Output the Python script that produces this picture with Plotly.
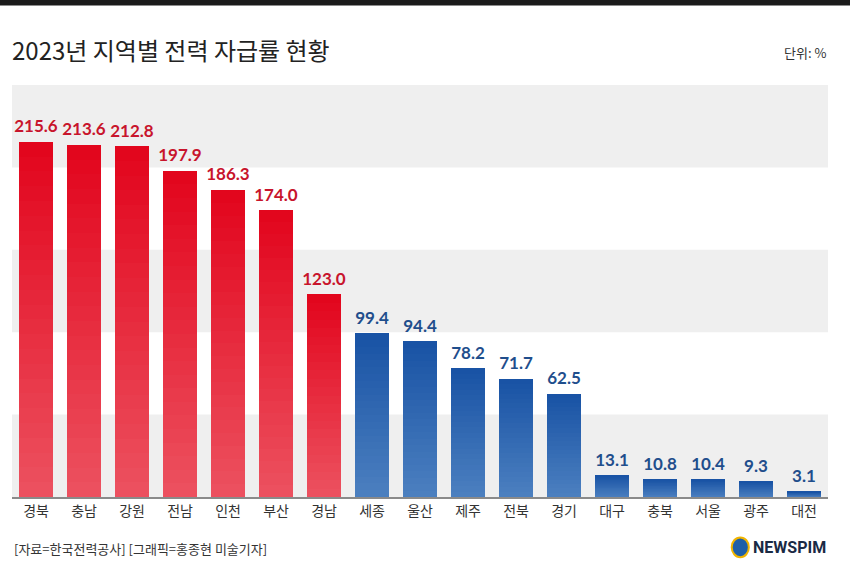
import plotly.graph_objects as go

regions = ["경북", "충남", "강원", "전남", "인천", "부산", "경남", "세종", "울산", "제주",
           "전북", "경기", "대구", "충북", "서울", "광주", "대전"]
values = [215.6, 213.6, 212.8, 197.9, 186.3, 174.0, 123.0, 99.4, 94.4, 78.2,
          71.7, 62.5, 13.1, 10.8, 10.4, 9.3, 3.1]
labels = [f"{v:.1f}" for v in values]
band_ranges = [(0, 50), (100, 150), (200, 250)]

RED_TOP, RED_BOT = (226, 4, 28), (236, 82, 96)
BLUE_TOP, BLUE_BOT = (24, 82, 164), (76, 128, 192)
RED_TXT = "#c8142c"
BLUE_TXT = "#1f4e8c"
is_red = [v > 100 for v in values]
txt_colors = [RED_TXT if r else BLUE_TXT for r in is_red]


def mix(a, b, t):
    return "rgb(%d,%d,%d)" % tuple(round(a[i] + (b[i] - a[i]) * t) for i in range(3))


N = 24
fig = go.Figure()
for k in range(N):
    t = (k + 0.5) / N
    cols = [mix(RED_BOT, RED_TOP, t) if r else mix(BLUE_BOT, BLUE_TOP, t) for r in is_red]
    fig.add_trace(go.Bar(
        x=regions, y=[v / N for v in values],
        marker=dict(color=cols, line=dict(width=0)),
        hoverinfo="skip",
        width=0.71,
    ))

fig.add_trace(go.Scatter(
    x=regions, y=values, mode="markers+text", text=labels, textposition="top center",
    marker=dict(size=7, opacity=0),
    textfont=dict(family="Lato", size=17, color=txt_colors, weight="bold"),
    cliponaxis=False, hoverinfo="skip",
))

shapes = []
for y0, y1 in band_ranges:
    shapes.append(dict(type="rect", xref="paper", yref="y", x0=0, x1=1, y0=y0, y1=y1,
                       fillcolor="#efefef", line=dict(width=0), layer="below"))
shapes.append(dict(type="rect", xref="paper", yref="paper", x0=-0.05, x1=1.05,
                   y0=1.193, y1=1.25, fillcolor="#1b1b1b", line=dict(width=0)))

annotations = [
    dict(text="2023년 지역별 전력 자급률 현황", xref="paper", yref="paper", x=-0.002, y=1.085,
         xanchor="left", yanchor="middle", showarrow=False,
         font=dict(family="Noto Sans CJK KR", size=24, color="#222222")),
    dict(text="단위: %", xref="paper", yref="paper", x=1, y=1.078,
         xanchor="right", yanchor="middle", showarrow=False,
         font=dict(family="Noto Sans CJK KR", size=13, color="#333333")),
    dict(text="[자료=한국전력공사] [그래픽=홍종현 미술기자]", xref="paper", yref="paper", x=0, y=-0.125,
         xanchor="left", yanchor="middle", showarrow=False,
         font=dict(family="Noto Sans CJK KR", size=13, color="#333333")),
    dict(text="<b>NEWSPIM</b>", xref="paper", yref="paper", x=1, y=-0.122,
         xanchor="right", yanchor="middle", showarrow=False,
         font=dict(family="Roboto", size=16, color="#1a2a44")),
]
shapes.append(dict(type="circle", xref="paper", yref="paper",
                   x0=0.882, x1=0.903, y0=-0.146, y1=-0.098,
                   fillcolor="#1f5fa8", line=dict(color="#f0b400", width=2)))

fig.update_layout(
    width=850, height=588,
    margin=dict(l=12, r=22, t=85, b=91),
    paper_bgcolor="white", plot_bgcolor="white",
    showlegend=False,
    barmode="stack",
    bargap=0.29,
    shapes=shapes, annotations=annotations,
    xaxis=dict(showline=True, linecolor="#8a8a8a", linewidth=1.5, ticks="",
               tickfont=dict(family="Noto Sans CJK KR", size=14, color="#333333"),
               range=[-0.5, 16.5], fixedrange=True),
    yaxis=dict(range=[0, 250], showgrid=False, zeroline=False, showticklabels=False,
               fixedrange=True),
)

fig.write_html("out.html", config={"displayModeBar": False},
               post_script="document.body.style.margin='0';document.body.style.overflow='hidden';")
